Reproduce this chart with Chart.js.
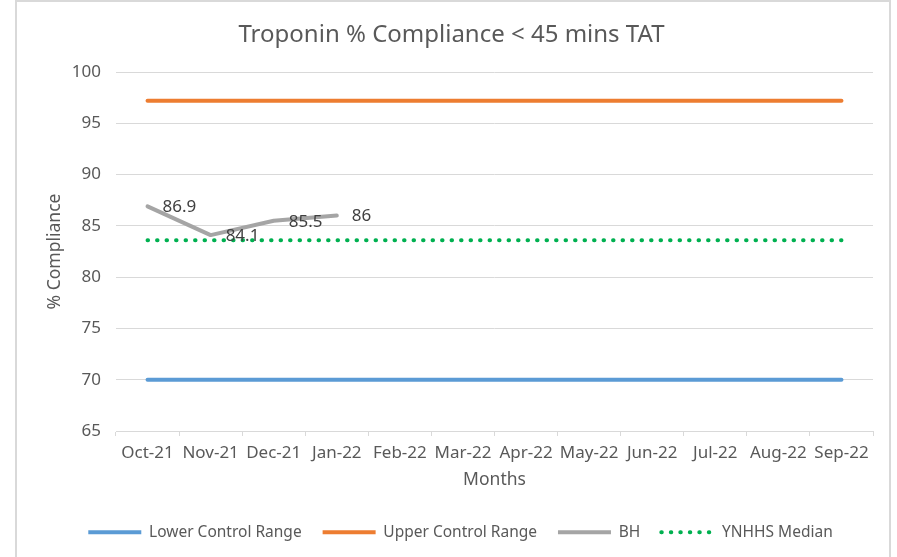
<!DOCTYPE html>
<html>
<head>
<meta charset="utf-8">
<script src="https://cdn.jsdelivr.net/npm/chart.js@4/dist/chart.umd.min.js"></script>
<style>
  html, body { margin: 0; padding: 0; background: #ffffff; }
  #wrap { position: relative; width: 897px; height: 557px; overflow: hidden; }
  #frame { position: absolute; left: 15px; top: 0px; width: 876px; height: 600px; border: 2px solid #D9D9D9; box-sizing: border-box; pointer-events: none; }
  canvas { position: absolute; left: 0; top: 0; }
</style>
</head>
<body>
<div id="wrap">
  <canvas id="c" width="897" height="557"></canvas>
  <div id="frame"></div>
</div>
<script>
const months = ['Oct-21','Nov-21','Dec-21','Jan-22','Feb-22','Mar-22','Apr-22','May-22','Jun-22','Jul-22','Aug-22','Sep-22'];
const lowerControlRange = [70, 70, 70, 70, 70, 70, 70, 70, 70, 70, 70, 70];
const upperControlRange = [97.2, 97.2, 97.2, 97.2, 97.2, 97.2, 97.2, 97.2, 97.2, 97.2, 97.2, 97.2];
const bh = [86.9, 84.1, 85.5, 86, null, null, null, null, null, null, null, null];
const ynhhsMedian = [83.6, 83.6, 83.6, 83.6, 83.6, 83.6, 83.6, 83.6, 83.6, 83.6, 83.6, 83.6];
const yTicks = [65, 70, 75, 80, 85, 90, 95, 100];

const FONT = 'Noto Sans';
const TXT = '#595959';

const dataLabels = {
  id: 'dataLabels',
  afterDatasetsDraw(chart) {
    const ctx = chart.ctx;
    chart.data.datasets.forEach((ds, i) => {
      if (!ds.showLabels) return;
      const meta = chart.getDatasetMeta(i);
      meta.data.forEach((el, j) => {
        const v = ds.data[j];
        if (v === null || v === undefined) return;
        ctx.save();
        ctx.font = '17px "' + FONT + '"';
        ctx.fillStyle = '#404040';
        ctx.textAlign = 'left';
        ctx.textBaseline = 'middle';
        ctx.fillText(String(v), el.x + 15, el.y + 1);
        ctx.restore();
      });
    });
  }
};

const legendShift = {
  id: 'legendShift',
  afterLayout(chart) {
    if (chart.legend) { chart.legend.left += 9; chart.legend.right += 9; }
  }
};

new Chart(document.getElementById('c'), {
  type: 'line',
  data: {
    labels: months,
    datasets: [
      { label: 'Lower Control Range', data: lowerControlRange, borderColor: '#5B9BD5', backgroundColor: '#5B9BD5', borderWidth: 4, pointRadius: 0, pointStyle: 'line', borderCapStyle: 'round', tension: 0 },
      { label: 'Upper Control Range', data: upperControlRange, borderColor: '#ED7D31', backgroundColor: '#ED7D31', borderWidth: 4, pointRadius: 0, pointStyle: 'line', borderCapStyle: 'round', tension: 0 },
      { label: 'BH', data: bh, borderColor: '#A5A5A5', backgroundColor: '#A5A5A5', borderWidth: 4, pointRadius: 0, pointStyle: 'line', borderCapStyle: 'round', borderJoinStyle: 'round', tension: 0, showLabels: true, spanGaps: false },
      { label: 'YNHHS Median', data: ynhhsMedian, borderColor: '#00B050', backgroundColor: '#00B050', borderWidth: 4, borderDash: [0.5, 9], borderCapStyle: 'round', pointRadius: 0, pointStyle: 'line', tension: 0 }
    ]
  },
  options: {
    responsive: false,
    animation: false,
    devicePixelRatio: 1,
    layout: { padding: { left: 30, right: 24, top: 0, bottom: 7 } },
    plugins: {
      title: {
        display: true,
        text: 'Troponin % Compliance < 45 mins TAT',
        color: TXT,
        font: { family: FONT, size: 24, weight: 'normal' },
        padding: { top: 20.6, bottom: 22.6 }
      },
      legend: {
        position: 'bottom',
        labels: {
          color: TXT,
          font: { family: FONT, size: 15.5 },
          usePointStyle: true,
          pointStyleWidth: 53,
          padding: 21,
          generateLabels(chart) {
            return chart.data.datasets.map((ds, i) => ({
              text: ds.label,
              datasetIndex: i,
              hidden: !chart.isDatasetVisible(i),
              fillStyle: 'rgba(0,0,0,0)',
              strokeStyle: ds.borderColor,
              lineWidth: 4,
              lineDash: ds.borderDash || [],
              lineCap: ds.borderDash ? 'round' : 'butt',
              pointStyle: 'line',
              fontColor: TXT
            }));
          }
        }
      },
      tooltip: { enabled: false }
    },
    scales: {
      x: {
        offset: true,
        grid: { offset: true, drawOnChartArea: false, drawTicks: true, tickLength: 5, color: '#D9D9D9' },
        border: { display: true, color: '#D9D9D9' },
        ticks: { color: TXT, font: { family: FONT, size: 17 }, padding: 7, maxRotation: 0, autoSkip: false },
        title: { display: true, text: 'Months', color: TXT, font: { family: FONT, size: 17.5 }, padding: { top: 0, bottom: 12.5 } },
        afterFit(scale) { scale.height = 72.5; }
      },
      y: {
        min: 65,
        max: 100,
        afterBuildTicks(scale) { scale.ticks = yTicks.map(v => ({ value: v })); },
        grid: { color: '#D9D9D9', drawTicks: false },
        border: { display: false },
        ticks: { color: TXT, font: { family: FONT, size: 17 }, padding: 15 },
        title: { display: true, text: '% Compliance', color: TXT, font: { family: FONT, size: 17.5 }, padding: { top: 14.5, bottom: 0 } },
        afterFit(scale) { scale.width = 86; }
      }
    }
  },
  plugins: [dataLabels, legendShift]
});
</script>
</body>
</html>
